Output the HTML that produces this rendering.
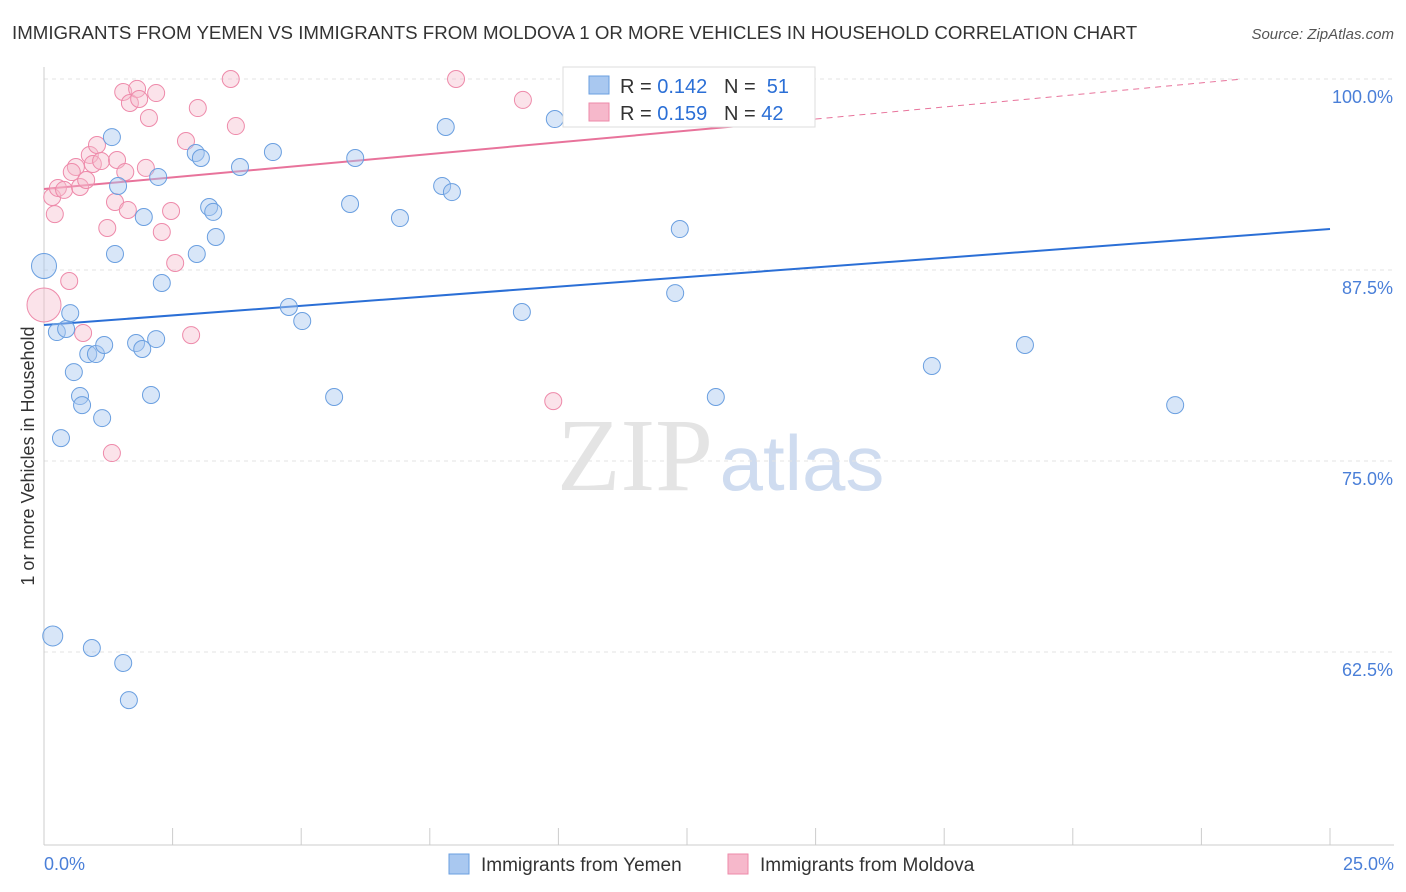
<!DOCTYPE html>
<html><head><meta charset="utf-8"><style>
body{margin:0;background:#fff;font-family:"Liberation Sans",sans-serif;}
svg{display:block}
</style></head><body>
<svg id="chart" width="1406" height="892">
<text x="12" y="39" font-size="18.7" fill="#333">IMMIGRANTS FROM YEMEN VS IMMIGRANTS FROM MOLDOVA 1 OR MORE VEHICLES IN HOUSEHOLD CORRELATION CHART</text>
<text x="1394" y="39" font-size="15" fill="#555" font-style="italic" text-anchor="end">Source: ZipAtlas.com</text>
<text x="34" y="456" font-size="18" fill="#333" text-anchor="middle" transform="rotate(-90 34 456)">1 or more Vehicles in Household</text>
<g><text x="635" y="490" font-size="104" fill="#e4e4e4" font-family="Liberation Serif,serif" text-anchor="middle">ZIP</text><text x="802" y="490" font-size="78" fill="#cfdcf0" text-anchor="middle">atlas</text></g>
<g id="grid"></g><g id="axes"></g><g id="lines"></g><g id="points"></g>
<g>
<rect x="563" y="67" width="252" height="60" fill="#fff" stroke="#ddd"/>
<rect x="589" y="76" width="20" height="18" fill="#a9c8f0" stroke="#6a9fe0"/>
<text x="620" y="93" font-size="20" fill="#333" xml:space="preserve">R = <tspan fill="#2b6fd6">0.142</tspan>   N =  <tspan fill="#2b6fd6">51</tspan></text>
<rect x="589" y="103" width="20" height="18" fill="#f6b8cb" stroke="#ee8aaa"/>
<text x="620" y="120" font-size="20" fill="#333" xml:space="preserve">R = <tspan fill="#2b6fd6">0.159</tspan>   N = <tspan fill="#2b6fd6">42</tspan></text>
</g>
<g>
<rect x="449" y="854" width="20" height="20" fill="#a9c8f0" stroke="#6a9fe0"/>
<text x="481" y="871" font-size="19" fill="#333">Immigrants from Yemen</text>
<rect x="728" y="854" width="20" height="20" fill="#f6b8cb" stroke="#ee8aaa"/>
<text x="760" y="871" font-size="19" fill="#333">Immigrants from Moldova</text>
</g>
</svg>
<script>
const yTicks=[100,87.5,75,62.5];
const yTickLabels=["100.0%","87.5%","75.0%","62.5%"];
const xTickLabels=["0.0%","25.0%"];
const yemenX=[0,0.17,0.25,0.43,0.51,0.33,0.58,0.70,0.74,0.86,1.01,0.93,1.13,1.17,1.32,1.38,1.44,1.54,1.65,1.79,1.91,1.94,2.08,2.18,2.22,2.29,2.95,2.97,3.05,3.21,3.29,3.34,3.81,4.45,4.76,5.02,5.64,5.95,6.05,6.92,7.74,7.81,7.93,9.29,9.93,12.27,12.36,13.06,17.26,19.07,21.99];
const yemenY=[87.76,63.55,83.44,83.64,84.68,76.5,80.82,79.25,78.66,82.0,82.0,62.76,77.81,82.59,96.2,88.55,93.0,61.78,59.35,82.72,82.33,90.97,79.32,82.98,93.59,86.65,95.16,88.55,94.83,91.62,91.3,89.66,94.24,95.22,85.08,84.16,79.19,91.82,94.83,90.9,93.0,96.86,92.6,84.75,97.38,85.99,90.18,79.19,81.22,82.59,78.66];
const moldX=[0,0.16,0.21,0.27,0.39,0.49,0.62,0.54,0.70,0.76,0.82,0.89,0.95,1.03,1.11,1.23,1.32,1.38,1.42,1.54,1.58,1.63,1.67,1.81,1.85,1.98,2.04,2.18,2.29,2.47,2.55,2.76,2.86,2.99,3.63,3.73,8.01,9.31,9.90,14.23];
const moldY=[85.21,92.28,91.16,92.87,92.74,86.78,94.24,93.91,92.93,83.38,93.39,95.03,94.44,95.68,94.63,90.25,75.52,91.95,94.7,99.15,93.91,91.43,98.43,99.35,98.69,94.18,97.45,99.08,89.99,91.36,87.96,95.94,83.24,98.1,100,96.92,100,98.63,78.92,100];
const yemenLine=[[0,83.9],[25,90.18]];
const moldLine=[[0,92.8],[15,97.38],[23.3,100]];
const ns="http://www.w3.org/2000/svg";
const X=v=>44+v*1286/25, Y=v=>79+(100-v)*191/12.5;
function mk(p,t,a){const e=document.createElementNS(ns,t);for(const k in a)e.setAttribute(k,a[k]);document.getElementById(p).appendChild(e);return e;}
yTicks.forEach((t,i)=>{
 const g=mk('grid','line',{x1:44,x2:1394,y1:Y(t),y2:Y(t),stroke:'#e3e3e3','stroke-dasharray':'4,4'});
 
 
 const l=mk('axes','text',{x:1393,y:Y(t)+24,'font-size':18,fill:'#4a7fd8','text-anchor':'end'});l.textContent=yTickLabels[i];
 
 
});
const ax=mk('axes','line',{x1:44,x2:1394,y1:845,y2:845,stroke:'#ccc'});


const ay=mk('axes','line',{x1:44,x2:44,y1:67,y2:845,stroke:'#ccc'});


for(let i=0;i<=10;i++){const t=mk('axes','line',{x1:X(i*2.5),x2:X(i*2.5),y1:828,y2:845,stroke:'#ccc'});
 
 }
[[0,'start',44],[25,'end',1394]].forEach((d,i)=>{const t=mk('axes','text',{x:d[2],y:870,'font-size':18,fill:'#4a7fd8','text-anchor':d[1]});t.textContent=xTickLabels[i];
 
 });
const bl=mk('lines','line',{x1:X(yemenLine[0][0]),y1:Y(yemenLine[0][1]),x2:X(yemenLine[1][0]),y2:Y(yemenLine[1][1]),stroke:'#2b6fd6','stroke-width':2});


const pl=mk('lines','line',{x1:X(moldLine[0][0]),y1:Y(moldLine[0][1]),x2:X(moldLine[1][0]),y2:Y(moldLine[1][1]),stroke:'#e8739b','stroke-width':2});


const pd=mk('lines','line',{x1:X(moldLine[1][0]),y1:Y(moldLine[1][1]),x2:X(moldLine[2][0]),y2:Y(moldLine[2][1]),stroke:'#e8739b','stroke-width':1,'stroke-dasharray':'6,5'});


moldX.forEach((x,i)=>{const c=mk('points','circle',{cx:X(x),cy:Y(moldY[i]),r:i==0?17:8.5,fill:'rgba(246,184,203,0.4)',stroke:'#ee8aaa','stroke-width':1});
 
 });
yemenX.forEach((x,i)=>{const c=mk('points','circle',{cx:X(x),cy:Y(yemenY[i]),r:i==0?12.5:(i==1?10:8.5),fill:'rgba(169,200,240,0.45)',stroke:'#6a9fe0','stroke-width':1});
 
 });
</script>
</body></html>
